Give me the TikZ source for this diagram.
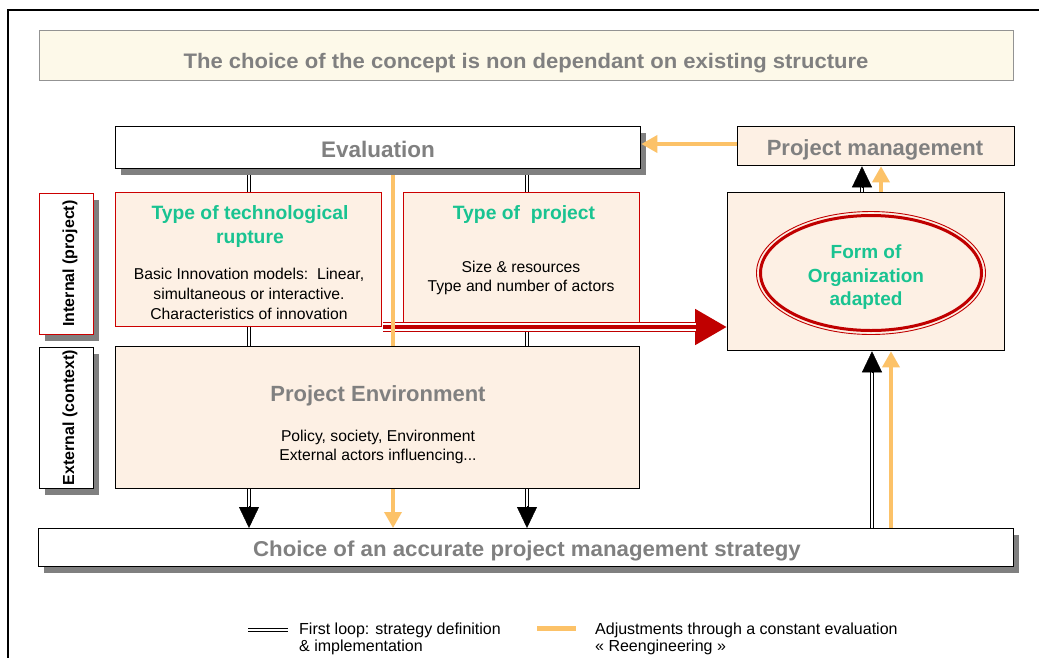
\documentclass[tikz,border=0pt]{standalone}
\usepackage{fontspec}
\setmainfont{Liberation Sans}
\newfontfamily\titlefont[FakeStretch=1.05]{Liberation Sans}
\newfontfamily\choicefont[FakeStretch=1.035]{Liberation Sans}
\usetikzlibrary{arrows.meta,shadows,backgrounds,shapes.geometric,calc}
\definecolor{peach}{RGB}{253,240,228}
\definecolor{ivory}{RGB}{253,249,233}
\definecolor{txtgray}{RGB}{128,128,128}
\definecolor{grn}{RGB}{25,195,145}
\definecolor{dred}{RGB}{192,0,0}
\definecolor{boxred}{RGB}{204,0,0}
\definecolor{orng}{RGB}{252,194,104}
\definecolor{shgray}{RGB}{128,128,128}
\newcommand\fsz[2]{\fontsize{#1}{#2}\selectfont}
\begin{document}
\begin{tikzpicture}[x=1pt,y=-1pt,
  box/.style={draw=black, line width=1.3pt, inner sep=0pt, anchor=north west},
  shadowed/.style={drop shadow={shadow xshift=5pt, shadow yshift=-6pt, fill=shgray, opacity=1}},
  headtxt/.style={text=txtgray, font=\fsz{22}{26}\bfseries},
  grntxt/.style={text=grn, font=\fsz{19.3}{24}\bfseries, align=center},
  bodytxt/.style={text=black, font=\fsz{15.7}{20}, align=center},
  sidetxt/.style={text=black, font=\fsz{16}{19}\bfseries, rotate=90},
  legtxt/.style={text=black, font=\fsz{16}{17}, align=left, anchor=north west, inner sep=0pt},
  dbl/.style={draw=black, line width=1.3pt, double=white, double distance=2pt},
  dblstem/.style={dbl, shorten >=19pt},
  blacktip/.style={draw=black, line width=0.4pt, -{Triangle[width=20pt,length=21pt]}},
  orline/.style={draw=orng, line width=3.5pt},
  orarrow/.style={orline, -{Triangle[width=17pt,length=16pt]}},
  redarrow/.style={draw=dred, line width=10pt, -{Triangle[width=34pt,length=32pt]},
     postaction={draw=white, line width=7.4pt, shorten >=31pt, -},
     postaction={draw=dred, line width=3.6pt, shorten >=31pt, -}}
]
\useasboundingbox (0,0) rectangle (1039,657);
% outer frame
\draw[line width=1.5pt] (1045,10) -- (8,10) -- (8,665);

% title
\node[box, fill=ivory, draw=gray!85, line width=1.2pt, minimum width=974pt, minimum height=50pt] (title) at (39,30) {};
\node[text=txtgray, font=\titlefont\fsz{21}{24}\bfseries] (titletxt) at (526,63) {The choice of the concept is non dependant on existing structure};

% evaluation
\node[box, shadowed, fill=white, minimum width=525pt, minimum height=42pt] (eval) at (115,126) {};
\node[headtxt, font=\fsz{22.5}{26}\bfseries] (evaltxt) at (378,149.5) {Evaluation};

% project management
\node[box, fill=peach, minimum width=277pt, minimum height=39pt] (pm) at (737,126) {};
\node[headtxt] (pmtxt) at (875,149.5) {Project management};

% side labels
\node[box, shadowed, fill=white, draw=boxred, minimum width=54pt, minimum height=141pt] (intl) at (39,193) {};
\node[sidetxt] (intltxt) at (70,263.5) {Internal (project)};
\node[box, shadowed, fill=white, minimum width=54pt, minimum height=141pt] (extl) at (39,347) {};
\node[sidetxt] (extltxt) at (70,417.5) {External (context)};

% type of technological rupture
\node[box, fill=peach, draw=boxred, minimum width=266pt, minimum height=134pt] (rup) at (115,192) {};
\node[grntxt] (ruptitle) at (250,227) {Type of technological\\rupture};
\node[bodytxt] (rupbody) at (249,294) {Basic Innovation models:\ \ Linear,\\simultaneous or interactive.\\Characteristics of innovation};

% type of project
\node[box, fill=peach, draw=boxred, minimum width=236pt, minimum height=130pt] (proj) at (403,192) {};
\node[grntxt] (projtitle) at (524,215) {Type of\ \ project};
\node[bodytxt, font=\fsz{15.7}{19}] (projbody) at (521,277.5) {Size \& resources\\Type and number of actors};

% project environment
\node[box, fill=peach, minimum width=524pt, minimum height=142pt] (env) at (115,346) {};
\node[headtxt] (envtitle) at (378,395.5) {Project Environment};
\node[bodytxt, font=\fsz{15.7}{19.5}] (envbody) at (378,447) {Policy, society, Environment\\External actors influencing...};

% choice
\node[box, shadowed, fill=white, minimum width=975pt, minimum height=38pt] (choice) at (38,528) {};
\node[text=txtgray, font=\choicefont\fsz{21.5}{24}\bfseries] (choicetxt) at (527,551) {Choice of an accurate project management strategy};

% form of organization
\node[box, fill=peach, minimum width=277pt, minimum height=158pt] (form) at (727,192) {};
\node[ellipse, draw=dred, line width=0.9pt, minimum width=229pt, minimum height=123pt, inner sep=0pt] (formring) at (871,273) {};
\node[ellipse, draw=dred, line width=3pt, minimum width=221pt, minimum height=115pt, inner sep=0pt] (formell) at (871,273) {};
\node[grntxt, font=\fsz{19}{23.5}\bfseries] (formtxt) at (866,277.5) {Form of\\Organization\\adapted};

% coordinates for connectors
\coordinate (cx1) at (249,0);
\coordinate (cx2) at (527,0);
\coordinate (cxo) at (393,0);
\coordinate (cx3) at (862,0);
\coordinate (cx4) at (881,0);
\coordinate (cx5) at (872,0);
\coordinate (cx6) at (891,0);
\coordinate (ry) at (383,327);
\coordinate (oy) at (0,144);

\begin{scope}[on background layer]
\fill[white] (0,0) rectangle (1039,657);
\draw[dblstem] (eval.south -| cx1) -- (choice.north -| cx1);
\draw[dblstem] (eval.south -| cx2) -- (choice.north -| cx2);
\draw[redarrow] (ry) -- (form.west |- ry);
\draw[orarrow] (eval.south -| cxo) -- (choice.north -| cxo);
\end{scope}
\draw[blacktip] ($(choice.north -| cx1)+(0,-22)$) -- (choice.north -| cx1);
\draw[blacktip] ($(choice.north -| cx2)+(0,-22)$) -- (choice.north -| cx2);

\draw[orarrow] (pm.west |- oy) -- (eval.east |- oy);
\draw[dblstem] (form.north -| cx3) -- (pm.south -| cx3);
\draw[blacktip] ($(pm.south -| cx3)+(0,22)$) -- (pm.south -| cx3);
\draw[orarrow] (form.north -| cx4) -- (pm.south -| cx4);
\draw[dblstem] (choice.north -| cx5) -- (form.south -| cx5);
\draw[blacktip] ($(form.south -| cx5)+(0,22)$) -- (form.south -| cx5);
\draw[orarrow] (choice.north -| cx6) -- (form.south -| cx6);

% legend
\coordinate (lga) at (248,630);
\coordinate (lgb) at (288,630);
\coordinate (lgc) at (537,628);
\coordinate (lgd) at (576,628);
\draw[dbl] (lga) -- (lgb);
\draw[orng, line width=5pt] (lgc) -- (lgd);
\node[legtxt] (leg1) at (299,623) {First loop: strategy definition\\\& implementation};
\node[legtxt] (leg2) at (595,623) {Adjustments through a constant evaluation\\« Reengineering »};
\end{tikzpicture}
\end{document}
